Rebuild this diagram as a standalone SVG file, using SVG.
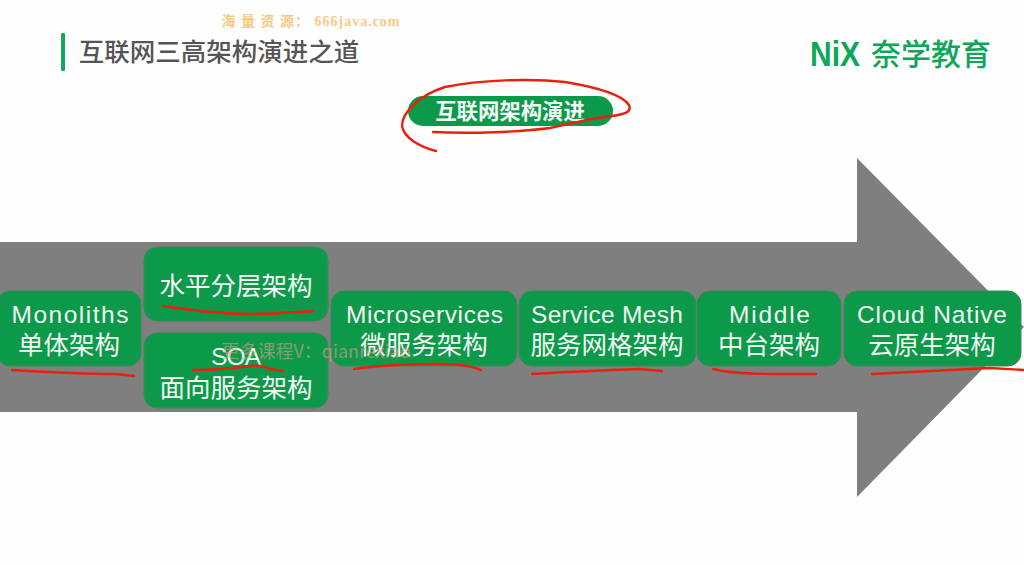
<svg xmlns="http://www.w3.org/2000/svg" width="1024" height="565" viewBox="0 0 1024 565">
<style>
text{font-family:"Noto Sans CJK SC","Liberation Sans",sans-serif;text-anchor:middle}
.box{fill:#0c994a;stroke:#3c8a56;stroke-width:1}
.t{fill:#f2f8f3;font-size:25.5px}
.l{fill:#f2f8f3;font-size:24.5px;font-family:"Liberation Sans",sans-serif}
.ink{fill:none;stroke:#e8200f;stroke-width:2.4;stroke-linecap:round;stroke-linejoin:round}
</style>
<rect width="1024" height="565" fill="#fefefe"/>
<path id="arrow" d="M0 242H857V158L1024 327L857 497V412H0Z" fill="#7f7f7f"/>
<g id="header">
<rect x="61" y="33" width="4" height="38" rx="1" fill="#12a75a"/>
<text x="219" y="61" style="font-size:25.5px;font-weight:500;fill:#555" >互联网三高架构演进之道</text>
<text x="311" y="26" style="font-family:'Liberation Serif','Noto Sans CJK SC',serif;font-size:14px;font-weight:700;fill:#f7c987;letter-spacing:1px">海 量 资 源： 666java.com</text>
</g>
<g id="logo">
<text x="835" y="66" style="font-family:'Liberation Sans',sans-serif;font-weight:700;font-size:35px;fill:#0ea658" textLength="50" lengthAdjust="spacingAndGlyphs">NiX</text>
<text x="931" y="65" style="font-size:30px;font-weight:500;fill:#0ea658">奈学教育</text>
</g>
<g id="title-pill">
<rect x="408" y="96" width="205" height="30" rx="15" fill="#0c994a"/>
<text x="510" y="119" style="font-size:21.4px;font-weight:700;fill:#f4faf5">互联网架构演进</text>
</g>
<g id="monoliths"><rect class="box" x="-3" y="291" width="144" height="75" rx="13"/><text class="l" x="70" y="323" textLength="117">Monoliths</text><text class="t" x="69" y="354">单体架构</text></g>
<g id="layered"><rect class="box" x="144" y="247" width="184" height="74" rx="13"/><text class="t" x="236" y="295">水平分层架构</text></g>
<g id="soa"><rect class="box" x="144" y="333" width="184" height="75" rx="13"/><text class="l" x="236" y="365" textLength="50">SOA</text><text class="t" x="236" y="397">面向服务架构</text></g>
<g id="microservices"><rect class="box" x="331" y="291" width="186" height="75" rx="13"/><text class="l" x="424.500" y="323" textLength="157">Microservices</text><text class="t" x="424" y="354">微服务架构</text></g>
<g id="service-mesh"><rect class="box" x="519" y="291" width="177" height="75" rx="13"/><text class="l" x="607" y="323" textLength="152">Service Mesh</text><text class="t" x="607" y="354">服务网格架构</text></g>
<g id="middle"><rect class="box" x="697" y="291" width="144" height="75" rx="13"/><text class="l" x="769.500" y="323" textLength="81">Middle</text><text class="t" x="769" y="354">中台架构</text></g>
<g id="cloud-native"><rect class="box" x="844" y="291" width="177" height="75" rx="13"/><text class="l" x="932" y="323" textLength="150">Cloud Native</text><text class="t" x="932" y="354">云原生架构</text></g>
<text x="316" y="358" style="font-size:18px;fill:#d8a08a;opacity:.6">更多课程V：qianrexiao</text>
<g id="connectors">
<path class="ink" d="M436 151C420 147 404 138 402 126C402 112 420 95 445 87C480 80 530 78 565 82C595 87 622 94 629 105C632 112 625 114 612 116C590 118 575 123 550 128C520 132 470 134 433 132"/>
<path class="ink" d="M163 306C190 310 225 314 250 314C275 314 295 312 313 311"/>
<path class="ink" d="M12 370C45 372 90 374 115 374L134 376"/>
<path class="ink" d="M193 370C215 370 235 368 250 366C260 364 265 367 270 369L283 371"/>
<path class="ink" d="M354 369C375 366 410 364 440 364C460 364 472 366 481 370"/>
<path class="ink" d="M532 374C565 372 610 370 640 369L662 371"/>
<path class="ink" d="M713 369C730 373 750 374 775 374L816 374"/>
<path class="ink" d="M872 374C910 372 950 370 990 368L1024 370"/>
</g>
</svg>
